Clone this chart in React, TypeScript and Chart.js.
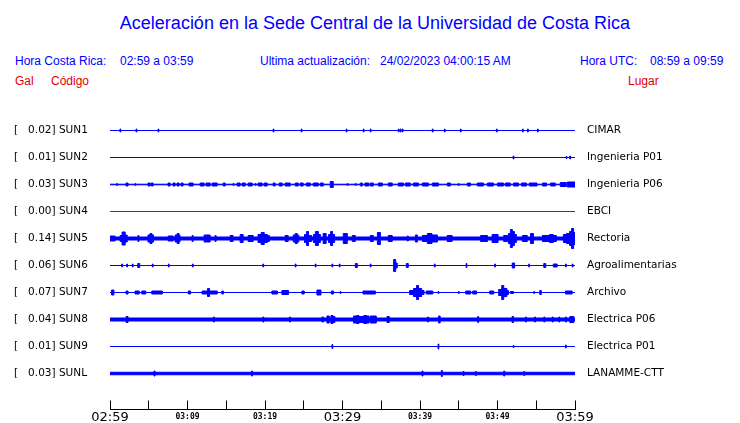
import React, { useEffect, useRef } from "react";
import { Chart, registerables } from "chart.js";

Chart.register(...registerables);

// ---- data ----
const CODES = ["SUN1", "SUN2", "SUN3", "SUN4", "SUN5", "SUN6", "SUN7", "SUN8", "SUN9", "SUNL"];
const PEAK_GAL = [0.02, 0.01, 0.03, 0.0, 0.14, 0.06, 0.07, 0.04, 0.01, 0.03];
const PLACES = [
  "CIMAR",
  "Ingenieria P01",
  "Ingenieria P06",
  "EBCI",
  "Rectoria",
  "Agroalimentarias",
  "Archivo",
  "Electrica P06",
  "Electrica P01",
  "LANAMME-CTT",
];
const ONLINE = [true, true, true, false, true, true, true, true, true, true];
// background noise half-amplitude of each trace
const BASE_NOISE = [0, 0, 0.3, 0, 1.5, 0, 0, 1.5, 0, 1.25];

// events: [minute since 02:59, duration (min), half amplitude]
const SUN1_EVENTS = [
  [1.29, 0.1, 1.5], [3.36, 0.1, 1.5], [6.2, 0.1, 1.5], [21.05, 0.1, 1.5], [24.67, 0.1, 1.5],
  [30.48, 0.1, 1.5], [32.68, 0.1, 1.5], [33.58, 0.1, 1.5], [37.2, 0.1, 1.5], [37.45, 0.1, 1.5],
  [37.7, 0.1, 1.5], [41.59, 0.1, 1.5], [43.14, 0.1, 1.5], [45.21, 0.1, 1.5], [49.86, 0.1, 1.5],
  [53.22, 0.1, 1.5], [53.87, 0.1, 1.5], [55.16, 0.1, 1.5],
];
const SUN2_EVENTS = [[52.02, 0.1, 1.5], [58.86, 0.1, 1], [59.33, 0.1, 1.5]];
const SUN3_EVENTS = [
  [0.87, 0.1, 1], [2.07, 0.26, 1.5], [3.23, 0.1, 1], [4.91, 0.26, 1.5], [5.3, 0.26, 1.5],
  [7.49, 0.26, 1.5], [8.14, 0.26, 1.5], [8.65, 0.26, 1.5], [9.17, 0.26, 1.5], [10.2, 0.52, 1.5],
  [11.63, 0.52, 1.5], [12.4, 0.52, 1.5], [13.18, 0.65, 1.5], [14.6, 0.26, 1.5], [15.89, 0.1, 1],
  [16.4, 0.39, 1.5], [17.05, 0.39, 1.5], [17.83, 0.52, 1.5], [18.73, 0.1, 1], [19.12, 0.52, 1.5],
  [19.89, 0.39, 1.5], [21.05, 0.26, 1.5], [21.83, 0.39, 1.5], [22.6, 0.65, 1.5], [23.9, 0.39, 1.5],
  [24.54, 0.39, 1.5], [25.32, 0.52, 1.5], [26.22, 0.65, 1.5], [27.13, 0.39, 1.5], [28.42, 0.39, 3],
  [30.61, 0.1, 1], [31.65, 0.1, 1], [32.3, 0.26, 1.5], [32.9, 0.5, 1.5], [33.58, 0.39, 1.5],
  [34.62, 0.52, 1.5], [35.9, 0.52, 1.5], [37.2, 0.65, 1.5], [38.1, 0.65, 1.5], [39.14, 0.65, 1.5],
  [40.3, 0.78, 1.5], [41.6, 0.78, 1.5], [43.53, 0.39, 1.5], [44.95, 0.1, 1], [46.11, 0.39, 1.5],
  [47.4, 0.78, 1.5], [48.7, 0.78, 1.5], [49.99, 0.78, 1.5], [51.0, 0.65, 1.5], [52.06, 0.65, 1.5],
  [53.1, 0.65, 1.5], [54.1, 1.0, 1.5], [55.8, 0.52, 1.5], [56.85, 0.6, 1.5], [58.1, 0.78, 2],
  [59.0, 1.0, 2.5],
];
const SUN4_EVENTS: number[][] = [];
const SUN5_EVENTS = [
  [0, 0.65, 2.5], [1.3, 0.26, 3], [1.56, 0.4, 6.5], [1.96, 0.26, 3.5], [3.6, 0.13, 3],
  [4.9, 0.26, 3.5], [5.16, 0.26, 5], [5.42, 0.2, 3.5], [7.5, 0.65, 2.5], [8.4, 0.26, 3.5],
  [8.66, 0.26, 5], [8.92, 0.13, 3], [10.6, 0.13, 3], [12.14, 0.78, 3.5], [13.56, 0.13, 3],
  [15.5, 0.39, 3], [16.79, 0.39, 4], [17.83, 0.65, 3], [19.1, 0.4, 4], [19.5, 0.4, 6],
  [19.9, 0.4, 4], [20.3, 0.26, 3], [22.6, 0.39, 3], [23.64, 0.26, 3.5], [23.9, 0.26, 5],
  [24.16, 0.2, 3.5], [25.1, 0.26, 4], [25.36, 0.26, 7], [25.62, 0.39, 3], [26.24, 0.26, 4],
  [26.5, 0.39, 7], [26.89, 0.26, 4], [27.5, 0.39, 5], [28.2, 0.26, 4], [28.46, 0.26, 7],
  [28.72, 0.26, 4], [30.1, 0.52, 5], [31.26, 0.39, 3], [33.58, 0.39, 3], [34.5, 0.39, 6],
  [35.9, 0.52, 3], [38.36, 0.13, 2.5], [39.4, 0.26, 3.5], [40.3, 0.65, 3], [40.95, 0.6, 5],
  [41.55, 0.7, 3.5], [43.5, 0.65, 3], [47.8, 0.9, 3], [49.3, 0.78, 4], [50.8, 0.5, 3],
  [51.4, 0.26, 5], [51.66, 0.26, 9], [51.92, 0.26, 7], [52.18, 0.26, 4], [53.2, 0.65, 3],
  [54.25, 0.39, 5], [55.8, 0.9, 3], [56.7, 0.5, 4], [57.2, 0.4, 3], [58.5, 0.4, 4],
  [58.9, 0.4, 5], [59.3, 0.26, 7], [59.56, 0.26, 10], [59.82, 0.18, 6],
];
const SUN6_EVENTS = [
  [1.51, 0.1, 1.5], [2.16, 0.1, 1.5], [2.88, 0.1, 1.5], [3.58, 0.26, 2], [5.46, 0.1, 1.5],
  [7.53, 0.1, 1.5], [10.63, 0.1, 1.5], [19.72, 0.1, 1.5], [23.9, 0.1, 1.5], [26.48, 0.1, 1.5],
  [28.64, 0.1, 1.5], [29.58, 0.1, 1.5], [31.65, 0.26, 2], [33.58, 0.1, 1.5], [36.6, 0.26, 6],
  [36.86, 0.2, 2.5], [38.23, 0.26, 2], [41.85, 0.1, 1.5], [45.95, 0.1, 2], [49.64, 0.1, 1.5],
  [51.9, 0.3, 2.5], [54.03, 0.1, 1.5], [55.97, 0.26, 2], [57.2, 0.5, 1.5], [58.77, 0.1, 1.5],
  [59.64, 0.1, 1.5],
];
const SUN7_EVENTS = [
  [0.2, 0.3, 2.5], [2.07, 0.26, 1.5], [3.23, 0.55, 1.5], [4.1, 0.52, 1.5], [5.39, 1.37, 1.5],
  [10.1, 0.3, 1.5], [11.88, 0.7, 1.5], [12.58, 0.26, 4], [12.84, 1.0, 1.5], [14.43, 0.2, 1.5],
  [20.89, 0.72, 1.5], [22.18, 0.86, 2], [24.76, 0.3, 1.5], [26.7, 0.52, 2.5], [28.55, 0.3, 1.5],
  [29.7, 0.1, 1], [32.64, 1.6, 1.5], [38.66, 0.5, 2], [39.16, 0.4, 4], [39.56, 0.26, 7],
  [39.82, 0.4, 4], [40.22, 0.3, 2], [40.8, 0.86, 1.5], [42.33, 0.1, 1], [44.95, 0.1, 1],
  [45.9, 0.65, 1.5], [46.8, 0.5, 1.5], [49.0, 0.52, 1.5], [50.15, 0.4, 3], [50.55, 0.26, 7],
  [50.81, 0.4, 4], [51.21, 0.2, 2], [51.67, 0.4, 1], [54.68, 0.1, 1], [55.45, 0.2, 2],
  [58.77, 0.86, 1.5],
];
const SUN8_EVENTS = [
  [2.07, 0.26, 3], [13.34, 0.13, 2.5], [19.72, 0.13, 2.5], [23.16, 0.13, 2.5], [27.35, 0.2, 2.5],
  [27.99, 0.3, 3.5], [28.5, 0.26, 4], [28.76, 0.26, 3], [31.43, 0.4, 3.5], [31.83, 0.3, 4],
  [32.13, 0.6, 3], [32.73, 0.4, 4], [33.13, 0.3, 3.5], [33.58, 0.78, 3.5], [35.74, 0.3, 3],
  [40.98, 0.13, 2.5], [42.4, 0.2, 3.5], [47.44, 0.13, 3], [51.88, 0.2, 3], [53.6, 0.13, 2.5],
  [54.77, 0.13, 2.5], [55.97, 0.13, 2.5], [57.05, 0.13, 2.5], [57.9, 0.13, 2.5], [58.77, 0.13, 2.5],
  [59.33, 0.52, 3],
];
const SUN9_EVENTS = [[28.64, 0.1, 2], [42.33, 0.1, 2.5], [52.02, 0.1, 1], [58.77, 0.1, 1.5]];
const SUNL_EVENTS = [
  [5.68, 0.13, 2.5], [18.26, 0.13, 2.5], [40.26, 0.13, 2.5], [42.75, 0.13, 3], [45.55, 0.13, 2],
  [47.15, 0.13, 2], [50.8, 0.13, 2.5], [53.38, 0.13, 2],
];
const EVENTS = [
  SUN1_EVENTS, SUN2_EVENTS, SUN3_EVENTS, SUN4_EVENTS, SUN5_EVENTS,
  SUN6_EVENTS, SUN7_EVENTS, SUN8_EVENTS, SUN9_EVENTS, SUNL_EVENTS,
];

const WINDOW_MIN = 60;
const MINUTE_TICKS = [0, 5, 10, 15, 20, 25, 30, 35, 40, 45, 50, 55, 60];
const TIME_LABELS = ["02:59", "03:09", "03:19", "03:29", "03:39", "03:49", "03:59"];

// ---- layout/style ----
const W = 740;
const H = 423;
const AMP_PER_UNIT = 27; // amplitude units per trace spacing
const BLUE = "#0000ff";
const RED = "#e00000";
const N = CODES.length;

function stepPoints(base: number, events: number[][]) {
  const pts: { x: number; a: number }[] = [];
  const sorted = [...events].sort((p, q) => p[0] - q[0]);
  if (!sorted.length || sorted[0][0] > 0) pts.push({ x: 0, a: base });
  let end = 0;
  for (const [t, d, a] of sorted) {
    pts.push({ x: t, a });
    end = Math.min(WINDOW_MIN, t + d);
    pts.push({ x: end, a: base });
  }
  if (end < WINDOW_MIN) pts.push({ x: WINDOW_MIN, a: base });
  return pts;
}

function buildDatasets() {
  const ds: any[] = [];
  for (let i = 0; i < N; i++) {
    const v = N - i;
    const pts = stepPoints(BASE_NOISE[i], EVENTS[i]);
    const color = ONLINE[i] ? BLUE : RED;
    const common = {
      stepped: true,
      borderColor: color,
      backgroundColor: color,
      borderWidth: 1,
      pointRadius: 0,
      xAxisID: "x",
      yAxisID: "y",
    };
    ds.push({
      ...common,
      label: CODES[i] + "+",
      data: pts.map((p) => ({ x: p.x, y: v + p.a / AMP_PER_UNIT })),
      fill: "+1",
    });
    ds.push({
      ...common,
      label: CODES[i] + "-",
      data: pts.map((p) => ({ x: p.x, y: v - p.a / AMP_PER_UNIT })),
      fill: false,
    });
  }
  return ds;
}

const TRACE_TICKS = CODES.map((_, i) => N - i);

function leftLabel(v: number) {
  const i = N - Math.round(v);
  if (i < 0 || i >= N) return "";
  return "[   " + PEAK_GAL[i].toFixed(2) + "] " + CODES[i];
}
function rightLabel(v: number) {
  const i = N - Math.round(v);
  if (i < 0 || i >= N) return "";
  return PLACES[i];
}

export default function App() {
  const ref = useRef<HTMLCanvasElement | null>(null);
  useEffect(() => {
    if (!ref.current) return;
    const yCommon = {
      type: "linear" as const,
      min: -1 / 3,
      max: 11,
      afterBuildTicks: (s: any) => {
        s.ticks = TRACE_TICKS.map((v) => ({ value: v }));
      },
      grid: { display: false, drawTicks: false },
      border: { display: false },
    };
    const chart = new Chart(ref.current, {
      type: "line",
      data: { datasets: buildDatasets() },
      options: {
        animation: false,
        responsive: false,
        devicePixelRatio: 1,
        events: [],
        layout: { padding: { left: 14, right: 0, top: 103.5, bottom: 0 } },
        plugins: {
          legend: { display: false },
          tooltip: { enabled: false },
          title: { display: false },
        },
        scales: {
          x: {
            type: "linear",
            position: "bottom",
            min: 0,
            max: WINDOW_MIN,
            afterFit: (s: any) => {
              s.height = 13.5;
              s.paddingLeft = 0;
              s.paddingRight = 0;
            },
            afterBuildTicks: (s: any) => {
              s.ticks = MINUTE_TICKS.map((v) => ({ value: v }));
            },
            grid: {
              drawOnChartArea: false,
              drawTicks: true,
              tickLength: -9,
              color: "#000",
              lineWidth: 1,
            },
            border: { display: true, color: "#000", width: 1 },
            ticks: {
              autoSkip: false,
              maxRotation: 0,
              minRotation: 0,
              padding: 9,
              color: "#000",
              font: (ctx: any) => {
                const val = ctx.tick ? ctx.tick.value : 0;
                return val % 30 === 0
                  ? { family: "DejaVu Sans", size: 13, lineHeight: 1.2 }
                  : { family: "DejaVu Sans Mono", size: 8, weight: "bold", lineHeight: 1.75 };
              },
              callback: (v: any) => {
                const n = Number(v);
                return n % 10 === 0 ? TIME_LABELS[n / 10] : "";
              },
            },
          },
          y: {
            ...yCommon,
            position: "left",
            afterFit: (s: any) => {
              s.width = 96;
              s.paddingTop = 0;
              s.paddingBottom = 0;
            },
            ticks: {
              crossAlign: "far",
              padding: 0,
              color: "#000",
              font: { family: "DejaVu Sans", size: 10.5 },
              callback: (v: any) => leftLabel(Number(v)),
            },
          },
          y2: {
            ...yCommon,
            position: "right",
            afterFit: (s: any) => {
              s.width = 165;
              s.paddingTop = 0;
              s.paddingBottom = 0;
            },
            ticks: {
              padding: 12,
              color: "#000",
              font: { family: "DejaVu Sans", size: 10.5 },
              callback: (v: any) => rightLabel(Number(v)),
            },
          },
        },
      } as any,
    });
    return () => chart.destroy();
  }, []);

  const font = '"Liberation Sans", Arial, sans-serif';
  const txt = (left: number, top: number, color: string, size: number, s: string) => (
    <span
      style={{
        position: "absolute",
        left,
        top,
        color,
        fontSize: size,
        lineHeight: size + 4 + "px",
        fontFamily: font,
        whiteSpace: "pre",
      }}
    >
      {s}
    </span>
  );

  return (
    <div style={{ position: "absolute", left: 0, top: 0, width: W, height: H, background: "#fff" }}>
      <div
        style={{
          position: "absolute",
          left: 0,
          width: 750,
          top: 12,
          textAlign: "center",
          color: BLUE,
          fontSize: 18,
          lineHeight: "22px",
          fontFamily: font,
        }}
      >
        Aceleración en la Sede Central de la Universidad de Costa Rica
      </div>
      {txt(15, 53, BLUE, 12, "Hora Costa Rica:")}
      {txt(120, 53, BLUE, 12, "02:59 a 03:59")}
      {txt(260, 53, BLUE, 12, "Ultima actualización:")}
      {txt(380, 53, BLUE, 12, "24/02/2023 04:00:15 AM")}
      {txt(580, 53, BLUE, 12, "Hora UTC:")}
      {txt(650, 53, BLUE, 12, "08:59 a 09:59")}
      {txt(15, 73, RED, 12, "Gal")}
      {txt(51, 73, RED, 12, "Código")}
      {txt(628, 73, RED, 12, "Lugar")}
      <canvas ref={ref} width={W} height={H} style={{ position: "absolute", left: 0, top: 0, width: W, height: H }} />
    </div>
  );
}
